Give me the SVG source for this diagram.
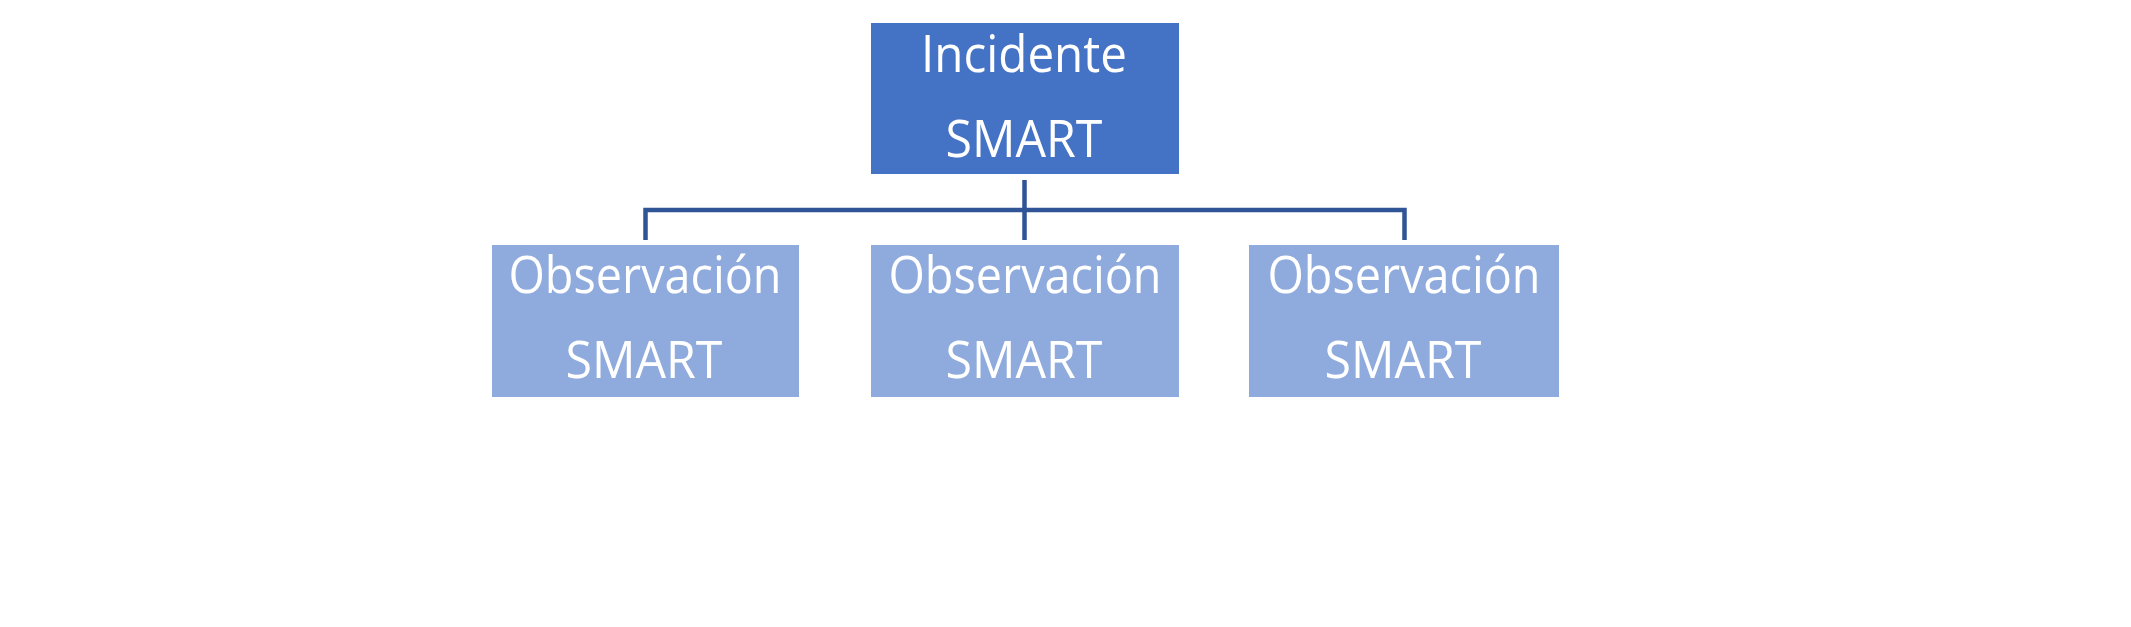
<svg xmlns="http://www.w3.org/2000/svg" width="2131" height="627" viewBox="0 0 2131 627">
<style>
.top{fill:#4472C4}
.child{fill:#8FAADC}
.lbl{font-family:"Open Sans","Noto Sans","Liberation Sans",sans-serif;font-size:52px;fill:#FFFFFF;text-anchor:middle}
.conn{stroke:#2F5597;stroke-width:4.5;fill:none}
</style>
<rect width="2131" height="627" fill="#FFFFFF"/>
<g id="connectors">
<path class="conn" d="M1024.5 180 V240"/>
<path class="conn" d="M645.5 240 V210 H1404.5 V240"/>
</g>
<g id="incidente">
<rect class="top" x="871" y="23" width="308" height="151"/>
<text class="lbl" x="1024" y="72" textLength="206" lengthAdjust="spacingAndGlyphs">Incidente</text>
<text class="lbl" x="1024" y="157" textLength="157" lengthAdjust="spacingAndGlyphs">SMART</text>
</g>
<g id="obs1">
<rect class="child" x="492" y="245" width="307" height="152"/>
<text class="lbl" x="645" y="293" textLength="273" lengthAdjust="spacingAndGlyphs">Observación</text>
<text class="lbl" x="644" y="378" textLength="157" lengthAdjust="spacingAndGlyphs">SMART</text>
</g>
<g id="obs2">
<rect class="child" x="871" y="245" width="308" height="152"/>
<text class="lbl" x="1025" y="293" textLength="273" lengthAdjust="spacingAndGlyphs">Observación</text>
<text class="lbl" x="1024" y="378" textLength="157" lengthAdjust="spacingAndGlyphs">SMART</text>
</g>
<g id="obs3">
<rect class="child" x="1249" y="245" width="310" height="152"/>
<text class="lbl" x="1404" y="293" textLength="273" lengthAdjust="spacingAndGlyphs">Observación</text>
<text class="lbl" x="1403" y="378" textLength="157" lengthAdjust="spacingAndGlyphs">SMART</text>
</g>
</svg>
